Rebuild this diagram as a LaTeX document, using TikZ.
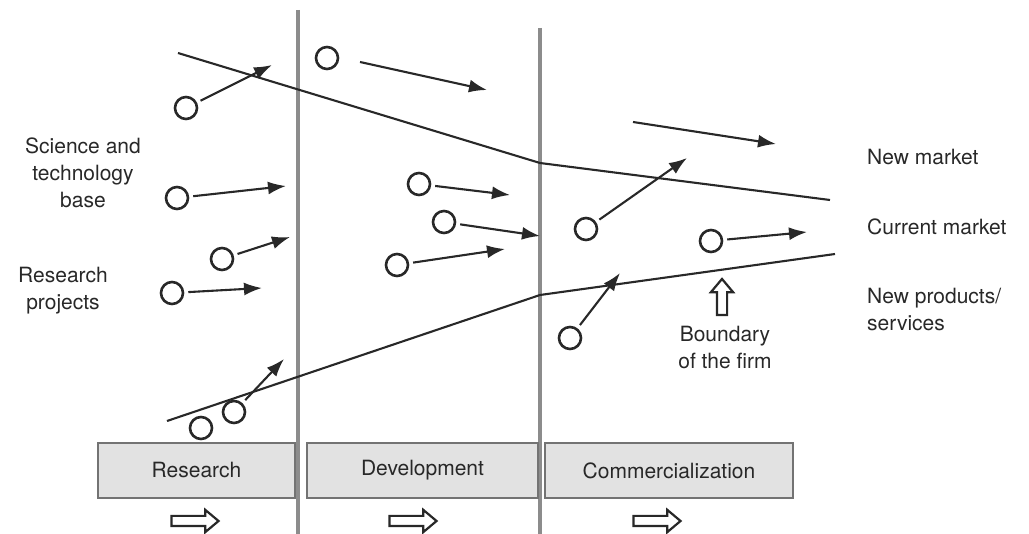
\documentclass[tikz,border=0pt]{standalone}
\usepackage{fontspec}
\setmainfont{TeX Gyre Heros}
\usetikzlibrary{arrows.meta,shapes.arrows}
\definecolor{ink}{RGB}{40,40,40}
\definecolor{rulegray}{RGB}{140,140,140}
\definecolor{boxfill}{RGB}{226,226,226}
\tikzset{
	idea/.style={circle,draw=ink,line width=2.6pt,minimum size=22pt,inner sep=0pt},
	flow/.style={draw=ink,line width=2.1pt,shorten <=4pt,-{Latex[length=18pt,width=13pt]}},
	bound/.style={draw=ink,line width=2.1pt},
	stage/.style={draw=rulegray,line width=3.8pt},
	phase/.style={draw=black!55,line width=2.2pt,fill=boxfill,minimum height=55pt,inner sep=0pt,text=ink,font=\fontsize{21}{27}\selectfont},
	lbl/.style={text=ink,font=\fontsize{21}{27}\selectfont,inner sep=0pt},
	hollow/.style={single arrow,draw=ink,line width=2.2pt,fill=white,inner sep=4pt,minimum height=47pt,single arrow head extend=6pt,single arrow tip angle=80}
}
\begin{document}
\begin{tikzpicture}[x=1pt,y=1pt,yscale=-1,xscale=1]
		\useasboundingbox (0,0) rectangle (1029,534);
		\draw [stage] (298,10) -- (298,534);
		\draw [stage] (540,28) -- (540,534);
		\draw [bound] (178,53) -- (540,163) -- (830,200);
		\draw [bound] (167,421) -- (540,295) -- (835,254);
		\node [phase,minimum width=197pt] (research) at (196.5,470.5) {Research};
		\node [phase,minimum width=231pt] (development) at (422.5,470.5) {Development};
		\node [phase,minimum width=248pt] (commercial) at (669,470.5) {Commercialization};
		\node [hollow] (go1) at (192,521) {};
		\node [hollow] (go2) at (410,521) {};
		\node [hollow] (go3) at (654,521) {};
		\node [idea] (s1) at (186,108) {};
		\node [idea] (d1) at (327,58) {};
		\node [idea] (s2) at (177,198) {};
		\node [idea] (s3) at (222,259) {};
		\node [idea] (r1) at (172,293) {};
		\node [idea] (b1) at (201,428) {};
		\node [idea] (b2) at (234,412) {};
		\node [idea] (d2) at (419,184) {};
		\node [idea] (d3) at (444,222) {};
		\node [idea] (d4) at (397,265) {};
		\node [idea] (c1) at (586,229) {};
		\node [idea] (c2) at (570,338) {};
		\node [idea] (c3) at (711,241) {};
		\coordinate (s1e) at (272,65);
		\coordinate (d1s) at (360,62);
		\coordinate (d1e) at (487,90);
		\coordinate (s2e) at (286,186);
		\coordinate (s3e) at (290,237);
		\coordinate (r1e) at (262,288);
		\coordinate (b2e) at (284,359);
		\coordinate (d2e) at (510,195);
		\coordinate (d3e) at (540,236);
		\coordinate (d4e) at (505,249);
		\coordinate (c1e) at (687,158);
		\coordinate (c2e) at (620,273);
		\coordinate (c3e) at (807,232);
		\coordinate (m1s) at (633,122);
		\coordinate (m1e) at (776,144);
		\draw [flow] (s1) -- (s1e);
		\draw [flow,shorten <=0pt] (d1s) -- (d1e);
		\draw [flow] (s2) -- (s2e);
		\draw [flow] (s3) -- (s3e);
		\draw [flow] (r1) -- (r1e);
		\draw [flow] (b2) -- (b2e);
		\draw [flow] (d2) -- (d2e);
		\draw [flow] (d3) -- (d3e);
		\draw [flow] (d4) -- (d4e);
		\draw [flow] (c1) -- (c1e);
		\draw [flow] (c2) -- (c2e);
		\draw [flow] (c3) -- (c3e);
		\draw [flow,shorten <=0pt] (m1s) -- (m1e);
		\node [hollow,shape border rotate=90,minimum height=36pt,inner sep=4pt,single arrow head extend=6pt] (edge) at (722,300) {};
		\node [lbl,align=center] (firm) at (725,348) {Boundary\\of the firm};
		\node [lbl,align=center] (base) at (83,173) {Science and\\technology\\base};
		\node [lbl,align=center] (projects) at (63,291) {Research\\projects};
		\node [lbl,anchor=west] (newmkt) at (867,157) {New market};
		\node [lbl,anchor=west] (curmkt) at (867,227) {Current market};
		\node [lbl,anchor=west,align=left] (newprod) at (867,310) {New products/\\services};
\end{tikzpicture}
\end{document}
